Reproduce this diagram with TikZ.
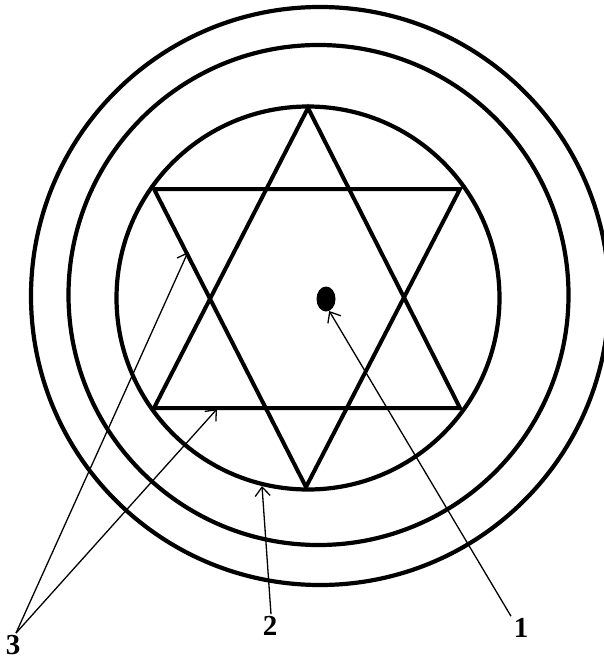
\documentclass[tikz,border=0pt]{standalone}
\usepackage{fontspec}
\setmainfont{Liberation Serif}
\usetikzlibrary{arrows.meta,shapes.geometric}
\begin{document}
\begin{tikzpicture}[x=1pt,y=-1pt,
  ring/.style={line width=4.2pt},
  starline/.style={line width=4pt,line join=miter},
  pointer/.style={line width=1.3pt,-{Straight Barb[length=9pt,width=15pt,line width=1.3pt]}},
  lbl/.style={font=\fontsize{29}{29}\selectfont\bfseries,inner sep=0pt}]
\useasboundingbox (0,0) rectangle (604,661);
% circles
\draw[ring] (320,296) circle[radius=289];
\draw[ring] (318.5,295) circle[radius=250];
\draw[ring] (308,298) circle[radius=191.5];
% star
\draw[starline] (308,108) -- (154,408) -- (460,408) -- cycle;
\draw[starline] (154,189) -- (460,189) -- (306,487) -- cycle;
% dot
\node[ellipse,fill=black,minimum width=19pt,minimum height=25pt,inner sep=0pt] (dot) at (326,299) {};
% targets
\coordinate (t3a) at (188,252);
\coordinate (t3b) at (217,409);
\coordinate (t2) at (262,486);
% labels
\node[lbl] (l3) at (13,645) {3};
\node[lbl] (l2) at (270,626) {2};
\node[lbl] (l1) at (521,628) {1};
% pointers
\draw[pointer] (l3.north) ++(3,-2) coordinate (s3) -- (t3a);
\draw[pointer] (s3) -- (t3b);
\draw[pointer] (l2.north) ++(1,-2) -- (t2);
\draw[pointer] (l1.north) ++(-10,-2) -- (dot.-75);
\end{tikzpicture}
\end{document}
